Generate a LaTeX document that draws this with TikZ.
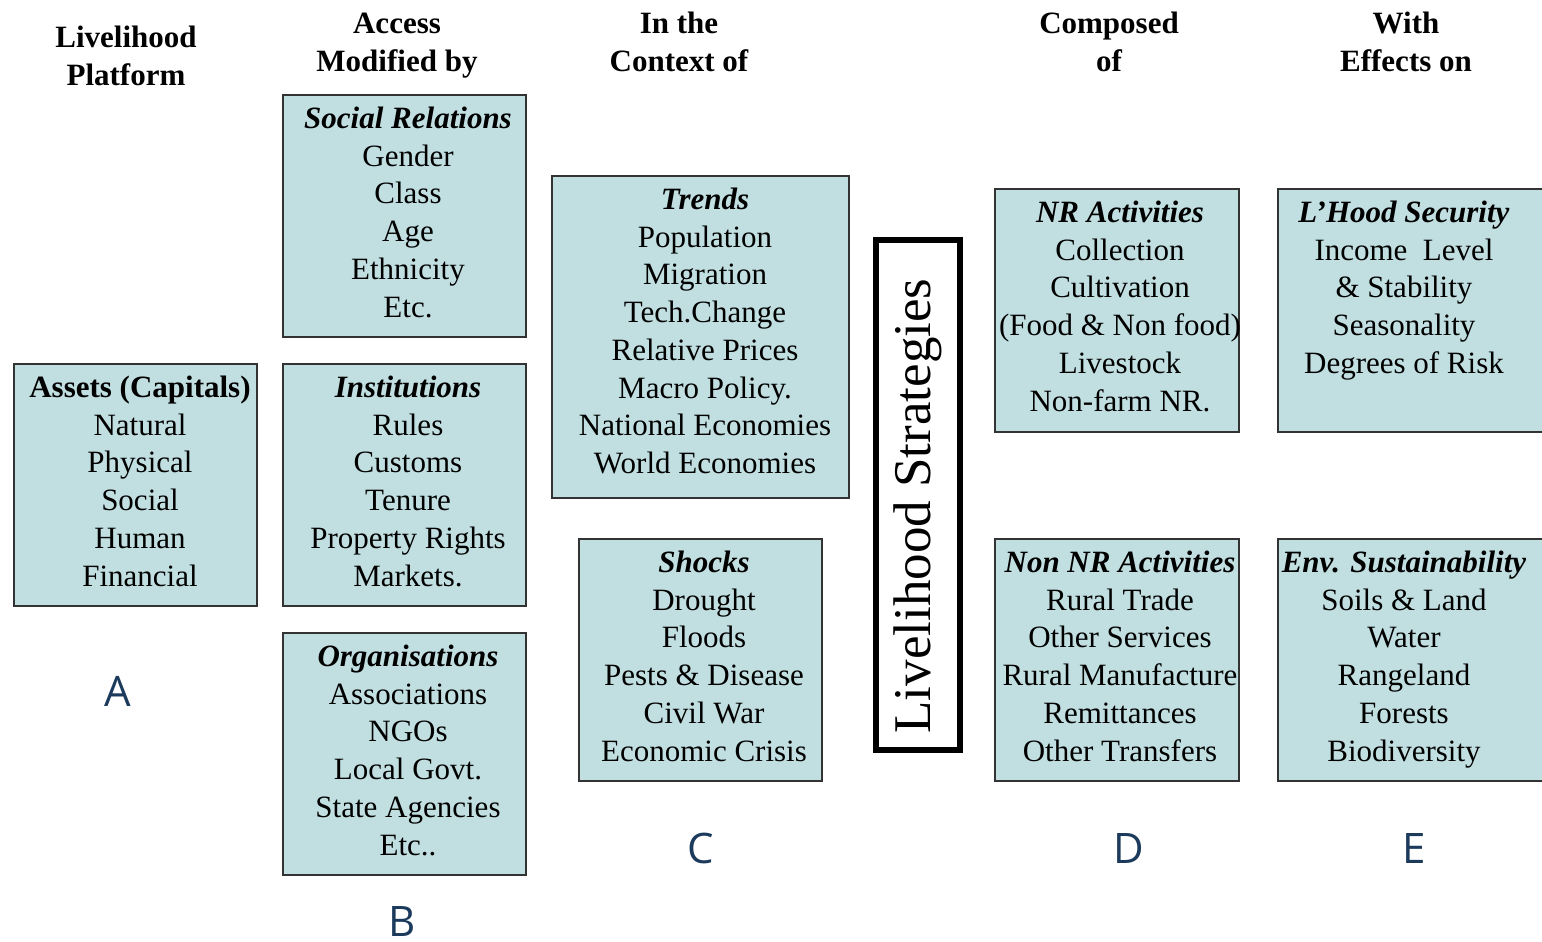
\documentclass[tikz,border=0pt]{standalone}
\usepackage{fontspec}
\setmainfont{Liberation Serif}
\newfontfamily\lettfont{Open Sans}
\definecolor{boxfill}{HTML}{C1DFE1}
\definecolor{boxline}{HTML}{333333}
\definecolor{lettcol}{HTML}{1B3A5C}
\tikzset{
  panel/.style={draw=boxline, line width=1pt, fill=boxfill, inner sep=0pt, anchor=north west},
  body/.style={align=center, inner sep=0pt, anchor=north, font=\fontsize{15.5}{18.85}\selectfont},
  head/.style={align=center, inner sep=0pt, anchor=north, font=\fontsize{15.5}{19}\selectfont\bfseries},
  lett/.style={font=\lettfont\fontsize{21}{24}\selectfont, text=lettcol, inner sep=0pt},
}
\newcommand{\ttl}[1]{\strut\textbf{\textit{#1}}}
\begin{document}
\begin{tikzpicture}[x=0.5pt,y=-0.5pt]
\useasboundingbox (0,0) rectangle (1542,942);
\clip (0,0) rectangle (1542,942);

% headers
\node[head] (h1) at (126,20.75) {\strut Livelihood\\Platform};
\node[head] (h2) at (397,6.75) {\strut Access\\Modified by};
\node[head] (h3) at (679,6.75) {\strut In the\\Context of};
\node[head] (h4) at (1109,6.75) {\strut Composed\\of};
\node[head] (h5) at (1406,6.75) {\strut With\\Effects on};

% column A
\node[panel, minimum width=243*0.5pt, minimum height=242*0.5pt] (assets) at (13,363) {};
\node[body] (assetsT) at (140,370.75) {\strut\textbf{Assets (Capitals)}\\Natural\\Physical\\Social\\Human\\Financial};

% column B
\node[panel, minimum width=243*0.5pt, minimum height=242*0.5pt] (social) at (282,94) {};
\node[body] (socialT) at (408,101.75) {\ttl{Social Relations}\\Gender\\Class\\Age\\Ethnicity\\Etc.};
\node[panel, minimum width=243*0.5pt, minimum height=242*0.5pt] (inst) at (282,363) {};
\node[body] (instT) at (408,370.75) {\ttl{Institutions}\\Rules\\Customs\\Tenure\\Property Rights\\Markets.};
\node[panel, minimum width=243*0.5pt, minimum height=242*0.5pt] (org) at (282,632) {};
\node[body] (orgT) at (408,639.75) {\ttl{Organisations}\\Associations\\NGOs\\Local Govt.\\State Agencies\\Etc..};

% column C
\node[panel, minimum width=297*0.5pt, minimum height=322*0.5pt] (trends) at (551,175) {};
\node[body] (trendsT) at (705,182.75) {\ttl{Trends}\\Population\\Migration\\Tech.Change\\Relative Prices\\Macro Policy.\\National Economies\\World Economies};
\node[panel, minimum width=243*0.5pt, minimum height=242*0.5pt] (shocks) at (578,538) {};
\node[body] (shocksT) at (704,545.75) {\ttl{Shocks}\\Drought\\Floods\\Pests \& Disease\\Civil War\\Economic Crisis};

% strategies
\node[draw=black, line width=3pt, fill=white, minimum width=84*0.5pt, minimum height=510*0.5pt, inner sep=0pt] (strat) at (918,495) {};
\node[rotate=90, inner sep=0pt, font=\fontsize{26.5}{30}\selectfont] (stratT) at (918,506) {Livelihood Strategies};

% column D
\node[panel, minimum width=244*0.5pt, minimum height=243*0.5pt] (nr) at (994,188) {};
\node[body] (nrT) at (1120,195.75) {\ttl{NR Activities}\\Collection\\Cultivation\\(Food \& Non food)\\Livestock\\Non-farm NR.};
\node[panel, minimum width=244*0.5pt, minimum height=242*0.5pt] (nonnr) at (994,538) {};
\node[body] (nonnrT) at (1120,545.75) {\ttl{Non NR Activities}\\Rural Trade\\Other Services\\Rural Manufacture\\Remittances\\Other Transfers};

% column E
\node[panel, minimum width=280*0.5pt, minimum height=243*0.5pt] (sec) at (1277,188) {};
\node[body] (secT) at (1404,195.75) {\ttl{L’Hood Security}\\Income\ \ Level\\\& Stability\\Seasonality\\Degrees of Risk};
\node[panel, minimum width=280*0.5pt, minimum height=242*0.5pt] (env) at (1277,538) {};
\node[body] (envT) at (1404,545.75) {\ttl{Env. Sustainability}\\Soils \& Land\\Water\\Rangeland\\Forests\\Biodiversity};

% letters
\node[lett] (la) at (118,691) {A};
\node[lett] (lb) at (402,921) {B};
\node[lett] (lc) at (701,848) {C};
\node[lett] (ld) at (1129,848) {D};
\node[lett] (le) at (1414,848) {E};
\end{tikzpicture}
\end{document}
